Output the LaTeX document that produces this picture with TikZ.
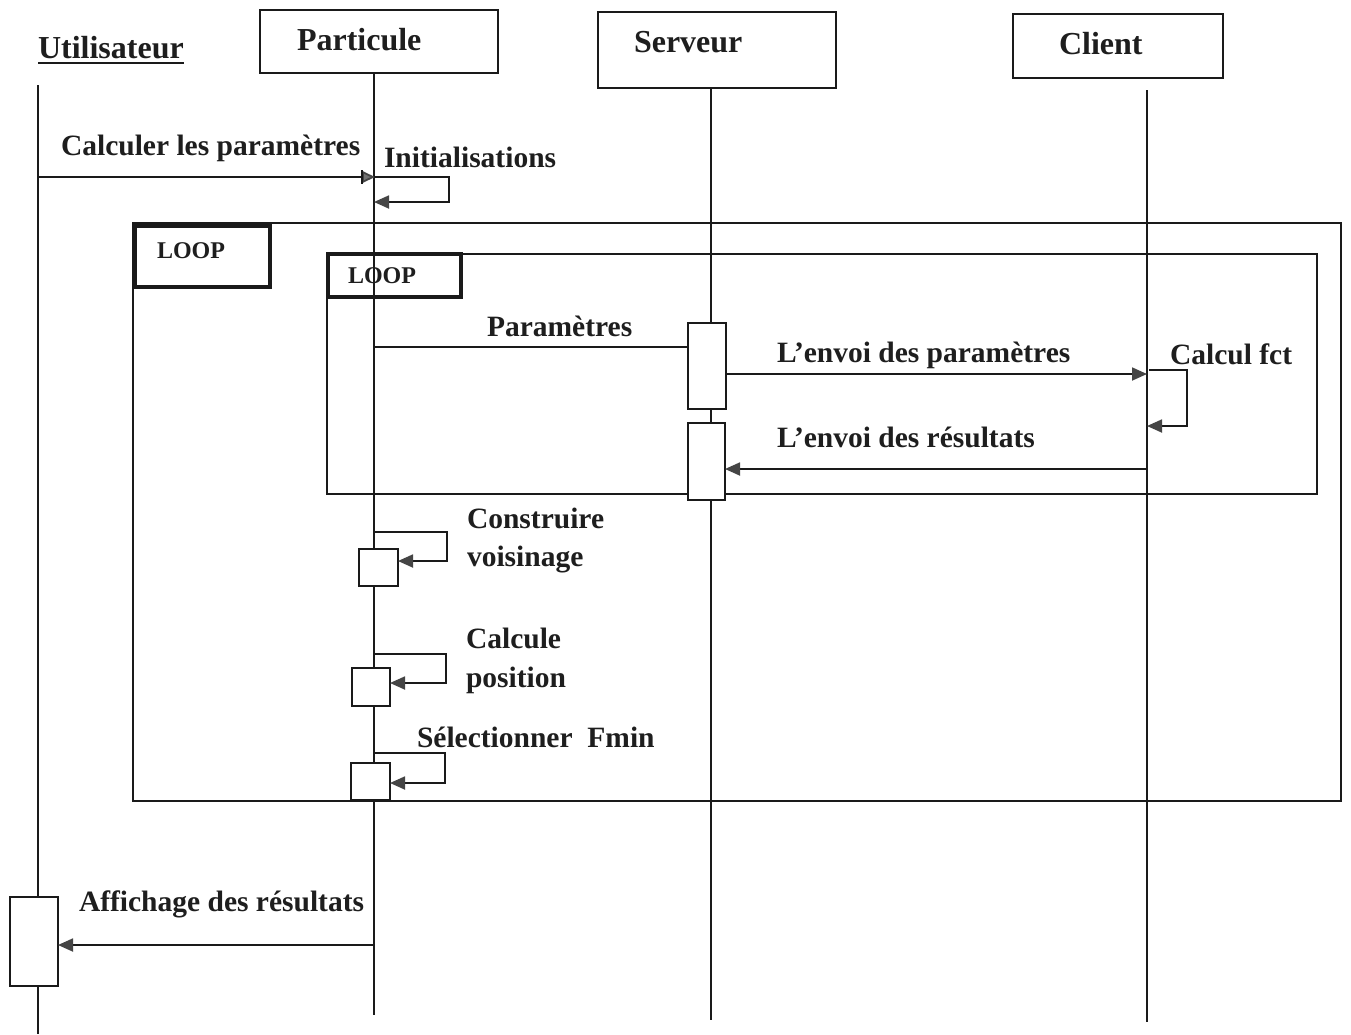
\documentclass[tikz,border=0pt]{standalone}
\usepackage{fontspec}
\setmainfont{Liberation Serif}
\usetikzlibrary{arrows.meta}
\definecolor{ink}{HTML}{1A1A1A}
\definecolor{tipgray}{HTML}{454545}
\definecolor{txt}{HTML}{1E1E1E}

\begin{document}
\begin{tikzpicture}[x=1pt,y=-1pt,
  every node/.style={inner sep=0pt, outer sep=0pt, text=txt},
  title/.style={anchor=base west, font=\fontsize{32}{35}\selectfont\bfseries},
  lbl/.style={anchor=base west, font=\fontsize{29.5}{33}\selectfont\bfseries},
  looplbl/.style={anchor=base west, font=\fontsize{24}{27}\selectfont\bfseries},
  head/.style={draw=ink, line width=2.2pt},
  life/.style={draw=ink, line width=1.8pt},
  frame/.style={draw=ink, line width=2.8pt},
  tag/.style={draw=ink, line width=3.2pt},
  act/.style={draw=ink, line width=2pt, fill=white},
  tipend/.style={-{Triangle[length=15pt,width=13pt,fill=tipgray,color=tipgray]}},
  msg/.style={draw=ink, line width=1.8pt, tipend},
  callmsg/.style={draw=ink, line width=1.8pt,
    -{Triangle[length=13pt,width=12pt,fill=tipgray!75,color=tipgray]}},
  plain/.style={draw=ink, line width=1.8pt},
]
\useasboundingbox (0,0) rectangle (1351,1034);
\fill[white] (0,0) rectangle (1351,1034);

% ---- participant heads
\node[head, minimum width=238pt, minimum height=63pt] (hPart) at (379,41.5) {};
\node[head, minimum width=238pt, minimum height=76pt] (hServ) at (717,50) {};
\node[head, minimum width=210pt, minimum height=64pt] (hCli) at (1118,46) {};

\node[title] (tUser) at (38,58) {Utilisateur};
\draw[line width=2.6pt, ink] ([yshift=-5pt]tUser.base west) -- ([yshift=-5pt]tUser.base east);
\node[title] (tPart) at (297,50) {Particule};
\node[title] (tServ) at (634,52) {Serveur};
\node[title] (tCli) at (1059,54) {Client};

% ---- lifelines
\coordinate (uTop) at (38,85);    \coordinate (uBot) at (38,1034);
\coordinate (pTop) at (374,73);   \coordinate (pBot) at (374,1015);
\coordinate (sTop) at (711,88);   \coordinate (sBot) at (711,1020);
\coordinate (cTop) at (1147,90);  \coordinate (cBot) at (1147,1022);
\draw[life] (uTop) -- (uBot);
\draw[life] (pTop) -- (pBot);
\draw[life] (sTop) -- (sBot);
\draw[life] (cTop) -- (cBot);

% ---- combined fragments (loops)
\node[frame, minimum width=1208pt, minimum height=578pt] (outerLoop) at (737,512) {};
\node[tag, minimum width=135pt, minimum height=61pt] (outerTag) at (202.5,256.5) {};
\node[looplbl] (outerTxt) at (157,258) {LOOP};
\node[frame, minimum width=990pt, minimum height=240pt] (innerLoop) at (822,374) {};
\node[tag, minimum width=133pt, minimum height=43pt] (innerTag) at (394.5,275.5) {};
\node[looplbl] (innerTxt) at (348,283) {LOOP};

% ---- activation boxes
\node[act, minimum width=38pt, minimum height=86pt] (sa1) at (707,366) {};
\node[act, minimum width=37pt, minimum height=77pt] (sa2) at (706.5,461.5) {};
\node[act, minimum width=39pt, minimum height=37pt] (pa1) at (378.5,567.5) {};
\node[act, minimum width=38pt, minimum height=38pt] (pa2) at (371,687) {};
\node[act, minimum width=39pt, minimum height=37pt] (pa3) at (370.5,781.5) {};
\node[act, minimum width=48pt, minimum height=89pt] (ua) at (34,941.5) {};

% ---- message end points
\coordinate (m1a) at (38,177);   \coordinate (m1b) at (375,177);
\coordinate (m2a) at (374,177);  \coordinate (m2b) at (374,202);
\coordinate (m3a) at (374,347);  \coordinate (m3b) at (688,347);
\coordinate (m4a) at (726,374);  \coordinate (m4b) at (1147,374);
\coordinate (m5a) at (1149,370); \coordinate (m5b) at (1147,426);
\coordinate (m6a) at (1147,469); \coordinate (m6b) at (725,469);
\coordinate (m7a) at (374,532);  \coordinate (m7b) at (398,561);
\coordinate (m8a) at (374,654);  \coordinate (m8b) at (390,683);
\coordinate (m9a) at (374,753);  \coordinate (m9b) at (390,783);
\coordinate (m10a) at (374,945); \coordinate (m10b) at (58,945);

% ---- messages
\draw[callmsg] (m1a) -- (m1b);
\draw[line width=1.4pt, ink] ([xshift=-13pt,yshift=7pt]m1b) -- ([xshift=-13pt,yshift=-7pt]m1b);
\draw[msg] (m2a) -- ++(75,0) |- (m2b);
\draw[plain] (m3a) -- (m3b);
\draw[msg] (m4a) -- (m4b);
\draw[msg] (m5a) -- ++(38,0) |- (m5b);
\draw[msg] (m6a) -- (m6b);
\draw[msg] (m7a) -- ++(73,0) |- (m7b);
\draw[msg] (m8a) -- ++(72,0) |- (m8b);
\draw[msg] (m9a) -- ++(71,0) |- (m9b);
\draw[msg] (m10a) -- (m10b);

% ---- message labels
\node[lbl] (l1) at (61,155) {Calculer les paramètres};
\node[lbl] (l2) at (384,167) {Initialisations};
\node[lbl] (l3) at (487,336) {Paramètres};
\node[lbl] (l4) at (777,362) {L’envoi des paramètres};
\node[lbl] (l5) at (1170,364) {Calcul fct};
\node[lbl] (l6) at (777,447) {L’envoi des résultats};
\node[lbl] (l7a) at (467,528) {Construire};
\node[lbl] (l7b) at (467,566) {voisinage};
\node[lbl] (l8a) at (466,648) {Calcule};
\node[lbl] (l8b) at (466,687) {position};
\node[lbl] (l9) at (417,747) {Sélectionner\ \ Fmin};
\node[lbl] (l10) at (79,911) {Affichage des résultats};
\end{tikzpicture}
\end{document}
